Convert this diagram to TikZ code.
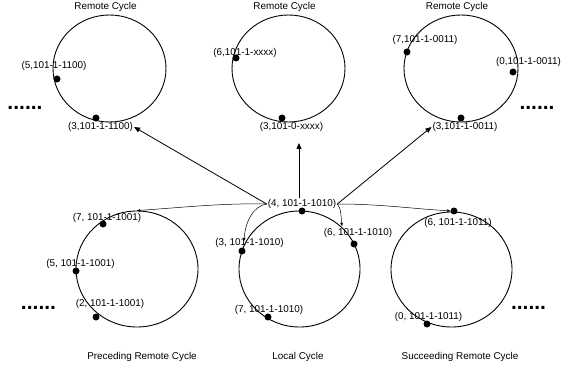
\documentclass[tikz,border=0pt]{standalone}
\usepackage{fontspec}
\setmainfont{Liberation Sans}
\usetikzlibrary{arrows.meta,shapes.geometric,calc}
\begin{document}
\begin{tikzpicture}[x=1pt,y=-1pt,
 cyc/.style={draw,ellipse,inner sep=0pt,line width=0.9pt},
 pt/.style={circle,fill,inner sep=0pt,minimum size=7pt},
 lab/.style={inner sep=1pt,font=\fontsize{9.9}{11}\selectfont,text height=7.2pt,text depth=2pt},
 more/.style={inner sep=0pt,anchor=base,font=\fontsize{21}{21}\selectfont\bfseries},
 bigarr/.style={line width=0.8pt,-{Triangle[length=6pt,width=5pt]}},
 smallarr/.style={line width=0.5pt,-{Stealth[length=3.5pt,width=3pt]}},
]
\useasboundingbox (0,0) rectangle (564,371);

% top row cycles
\node[cyc,minimum width=113pt,minimum height=107pt] (e1) at (109.5,68.5) {};
\node[cyc,minimum width=113pt,minimum height=107pt] (e2) at (288.5,68.5) {};
\node[cyc,minimum width=114pt,minimum height=107pt] (e3) at (461,68.5) {};
% bottom row cycles
\node[cyc,minimum width=122pt,minimum height=116pt] (e4) at (137,269) {};
\node[cyc,minimum width=121pt,minimum height=116pt] (e5) at (299.5,269) {};
\node[cyc,minimum width=121pt,minimum height=115pt] (e6) at (451.5,269.5) {};

% titles
\node[lab] (t1) at (105.5,7) {Remote Cycle};
\node[lab] (t2) at (284.5,7) {Remote Cycle};
\node[lab] (t3) at (457,7) {Remote Cycle};
\node[lab] (t4) at (142,357) {Preceding Remote Cycle};
\node[lab] (t5) at (298,357) {Local Cycle};
\node[lab] (t6) at (460,357) {Succeeding Remote Cycle};

% ellipsis marks
\node[more] (m1) at (25,110) {......};
\node[more] (m2) at (537,110) {......};
\node[more] (m3) at (38.5,309) {......};
\node[more] (m4) at (528.5,309) {......};

% top-left points
\node[pt] (a5) at (57,79) {};
\node[pt] (a3) at (96,118) {};
\node[lab] (la5) at (54,66) {(5,101-1-1100)};
\node[lab] (la3) at (100.5,127) {(3,101-1-1100)};
% top-middle points
\node[pt] (b6) at (236,58) {};
\node[pt] (b3) at (282,118) {};
\node[lab] (lb6) at (245,53) {(6,101-1-xxxx)};
\node[lab] (lb3) at (291.5,127) {(3,101-0-xxxx)};
% top-right points
\node[pt] (c7) at (407,52) {};
\node[pt] (c0) at (513,72) {};
\node[pt] (c3) at (461,118) {};
\node[lab] (lc7) at (425,40) {(7,101-1-0011)};
\node[lab] (lc0) at (528.5,62) {(0,101-1-0011)};
\node[lab] (lc3) at (465,127) {(3,101-1-0011)};
% bottom-left points
\node[pt] (d7) at (103,224) {};
\node[pt] (d5) at (76,271) {};
\node[pt] (d2) at (96,317) {};
\node[lab] (ld7) at (107,218) {(7, 101-1-1001)};
\node[lab] (ld5) at (80.5,264) {(5, 101-1-1001)};
\node[lab] (ld2) at (110,304) {(2, 101-1-1001)};
% bottom-middle points
\node[pt] (f4) at (302,211) {};
\node[pt] (f3) at (242,251) {};
\node[pt] (f6) at (354,244) {};
\node[pt] (f7) at (268,317) {};
\node[lab] (lf4) at (302,204) {(4, 101-1-1010)};
\node[lab] (lf3) at (249.5,243) {(3, 101-1-1010)};
\node[lab] (lf6) at (358,233) {(6, 101-1-1010)};
\node[lab] (lf7) at (269,310) {(7, 101-1-1010)};
% bottom-right points
\node[pt] (g6) at (454,211) {};
\node[pt] (g0) at (427,324) {};
\node[lab] (lg6) at (458,223) {(6, 101-1-1011)};
\node[lab] (lg0) at (428.5,317) {(0, 101-1-1011)};

% main arrows
\coordinate (mt) at (299,143);
\draw[bigarr] (lf4.west) -- (la3.east);
\draw[bigarr] (lf4.north -| mt) -- (mt);
\draw[bigarr] (lf4.east) -- (lc3.west);

% thin curved arrows
\coordinate (k3) at (244,241);
\coordinate (k6) at (342,226);
\draw[smallarr] (lf4.west) .. controls +(-45,-1) and +(45,-3) .. (e4.north);
\draw[smallarr] (lf4.west) .. controls +(-14,2) and +(1,-18) .. (k3);
\draw[smallarr] (lf4.east) .. controls +(45,0) and +(-40,-2) .. (g6);
\draw[smallarr] (lf4.east) .. controls +(4,4) and +(-1,-8) .. (k6);
\end{tikzpicture}
\end{document}
